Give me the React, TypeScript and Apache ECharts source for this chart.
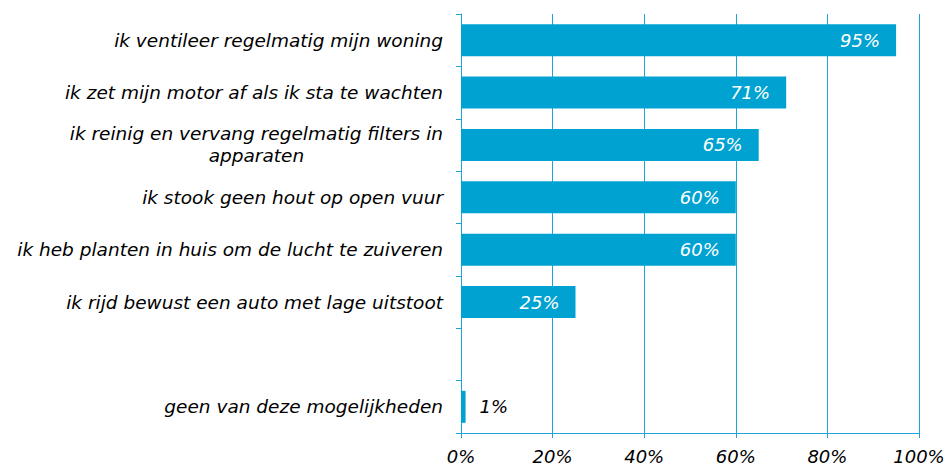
import React, { useEffect, useRef } from "react";
import * as echarts from "echarts";

const categories = [
  "ik ventileer regelmatig mijn woning",
  "ik zet mijn motor af als ik sta te wachten",
  "ik reinig en vervang regelmatig filters in\napparaten",
  "ik stook geen hout op open vuur",
  "ik heb planten in huis om de lucht te zuiveren",
  "ik rijd bewust een auto met lage uitstoot",
  "",
  "geen van deze mogelijkheden",
];
const values: (number | null)[] = [95, 71, 65, 60, 60, 25, null, 1];
const xTicks = [0, 20, 40, 60, 80, 100];

const BAR = "#00a2d1";
const AXIS = "#1ea4da";
const FONT = "DejaVu Sans";
const FS = 18;
const FS_Y = 18.5;

export default function App() {
  const ref = useRef<HTMLDivElement>(null);
  useEffect(() => {
    if (!ref.current) return;
    const chart = echarts.init(ref.current, undefined, { renderer: "svg" });
    chart.setOption({
      animation: false,
      grid: { left: 461, right: 31, top: 14, bottom: 34, containLabel: false },
      xAxis: {
        type: "value",
        min: xTicks[0],
        max: xTicks[xTicks.length - 1],
        interval: 20,
        axisLine: { show: true, lineStyle: { color: AXIS, width: 1 } },
        axisTick: { show: true, length: 5, lineStyle: { color: AXIS } },
        splitLine: { show: true, lineStyle: { color: AXIS, width: 1 } },
        axisLabel: {
          formatter: (v: number) => v + "%",
          fontFamily: FONT,
          fontStyle: "italic",
          fontSize: FS,
          color: "#000",
          margin: 14,
        },
      },
      yAxis: {
        type: "category",
        inverse: true,
        data: categories,
        axisLine: { show: true, lineStyle: { color: AXIS, width: 1 } },
        axisTick: { show: true, length: 5, lineStyle: { color: AXIS } },
        splitLine: { show: false },
        axisLabel: {
          margin: 18,
          formatter: (v: string) =>
            v
              .split("\n")
              .map((l) => "{c|" + l + "}")
              .join("\n"),
          rich: {
            c: {
              align: "center",
              fontFamily: FONT,
              fontStyle: "italic",
              fontSize: FS_Y,
              color: "#000",
              lineHeight: 22,
            },
          },
          fontFamily: FONT,
          fontStyle: "italic",
          fontSize: FS_Y,
          color: "#000",
          lineHeight: 22,
        },
      },
      series: [
        {
          type: "bar",
          barWidth: 32,
          itemStyle: { color: BAR },
          data: values.map((v) =>
            v !== null && v < 10
              ? { value: v, label: { position: "right", distance: 14, color: "#000" } }
              : v
          ),
          label: {
            show: true,
            position: "insideRight",
            distance: 16,
            formatter: (p: any) => (p.value == null ? "" : p.value + "%"),
            fontFamily: FONT,
            fontStyle: "italic",
            fontSize: FS,
            color: "#fff",
          },
        },
      ],
    });
    return () => chart.dispose();
  }, []);
  return (
    <div
      ref={ref}
      style={{ position: "fixed", left: 0, top: 0, width: 950, height: 467, background: "#fff" }}
    />
  );
}
